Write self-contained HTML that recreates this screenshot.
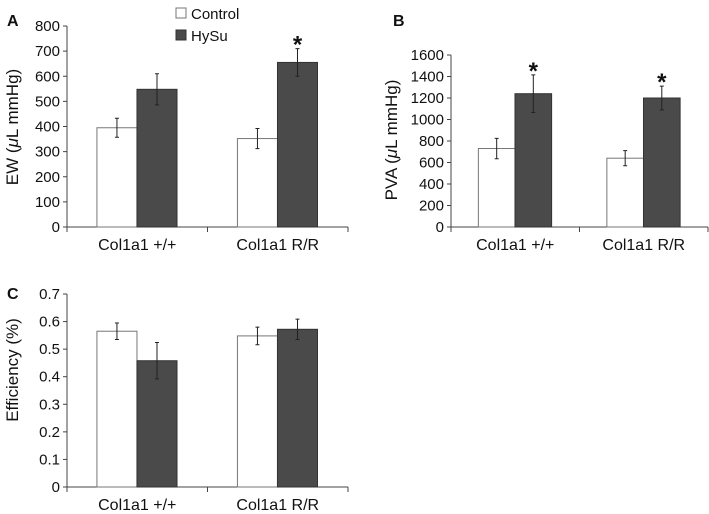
<!DOCTYPE html>
<html><head><meta charset="utf-8"><style>
body{margin:0;background:#fff;}
svg{display:block;font-family:"Liberation Sans",Arial,sans-serif;}
</style></head><body>
<svg id="chart" width="709" height="514" viewBox="0 0 709 514"></svg>
<script>
const categories=["Col1a1 +/+","Col1a1 R/R"];
const seriesNames=["Control","HySu"];
const ewControl=[395,352], ewControlErr=[38,40], ewHysu=[548,655], ewHysuErr=[62,55];
const ewTicks=[0,100,200,300,400,500,600,700,800];
const pvaControl=[730,640], pvaControlErr=[95,70], pvaHysu=[1240,1200], pvaHysuErr=[175,110];
const pvaTicks=[0,200,400,600,800,1000,1200,1400,1600];
const effControl=[0.565,0.548], effControlErr=[0.03,0.032], effHysu=[0.458,0.572], effHysuErr=[0.066,0.037];
const effTicks=["0","0.1","0.2","0.3","0.4","0.5","0.6","0.7"];
const ewStars=[false,true], pvaStars=[true,true], effStars=[false,false];

const svg=document.getElementById('chart');
const NS="http://www.w3.org/2000/svg";
function mk(tag,attrs,parent){const e=document.createElementNS(NS,tag);for(const k in attrs)e.setAttribute(k,attrs[k]);(parent||svg).appendChild(e);return e;}

function panel(o){
  const g=mk('g',{});
  
  
  const max=parseFloat(o.ticks[o.ticks.length-1]);
  const y=v=>o.y0-(v/max)*(o.y0-o.yTop);
  const catW=(o.x1-o.x0)/categories.length;
  const ax=mk('line',{x1:o.x0,y1:o.yTop,x2:o.x0,y2:o.y0,stroke:'#444','stroke-width':1},g);
  
  
  const bx=mk('line',{x1:o.x0,y1:o.y0,x2:o.x1,y2:o.y0,stroke:'#444','stroke-width':1},g);
  
  
  o.ticks.forEach(t=>{
    const v=parseFloat(t),yy=y(v);
    mk('line',{x1:o.x0-4,y1:yy,x2:o.x0,y2:yy,stroke:'#444'},g);
    const tx=mk('text',{x:o.x0-7,y:yy+5,'text-anchor':'end','font-size':15,fill:'#111'},g);
    tx.textContent=t;
    
    
  });
  for(let i=0;i<=categories.length;i++){const xx=o.x0+i*catW;mk('line',{x1:xx,y1:o.y0,x2:xx,y2:o.y0+5,stroke:'#444'},g);}
  categories.forEach((c,i)=>{
    const t=mk('text',{x:o.x0+(i+0.5)*catW,y:o.y0+23,'text-anchor':'middle','font-size':16,fill:'#111'},g);
    t.textContent=c;
    
    
    const bw=catW*0.285, off=catW*0.213;
    [[o.c,o.ce,'#fff','#777'],[o.h,o.he,'#4a4a4a','#333']].forEach((s,j)=>{
      const v=s[0][i],e=s[1][i],bx0=o.x0+i*catW+off+j*bw;
      const r=mk('rect',{x:bx0,y:y(v),width:bw,height:o.y0-y(v),fill:s[2],stroke:s[3],'stroke-width':1},g);
      
      
      const cx=bx0+bw/2;
      const el=mk('path',{d:`M${cx},${y(v+e)}V${y(v-e)}M${cx-2},${y(v+e)}H${cx+2}M${cx-2},${y(v-e)}H${cx+2}`,stroke:'#222','stroke-width':1,fill:'none'},g);
      
      
      if(j===1&&o.stars[i]){
        const st=mk('text',{x:cx,y:y(v+e)+4,'text-anchor':'middle','font-size':24,'font-weight':'bold',fill:'#111'},g);
        st.textContent='*';
        
        
      }
    });
  });
  const tt=mk('text',{x:o.titleX,y:o.titleY,'text-anchor':'middle','font-size':17,fill:'#111',transform:`rotate(-90 ${o.titleX} ${o.titleY})`},g);
  tt.innerHTML=o.title;
  
  
  const pl=mk('text',{x:o.lx,y:o.ly,'font-size':16,'font-weight':'bold',fill:'#111'},g);
  pl.textContent=o.label;
  
  
}
panel({name:'panel-a-ew',x0:67,x1:348,y0:227,yTop:26,ticks:ewTicks.map(String),c:ewControl,ce:ewControlErr,h:ewHysu,he:ewHysuErr,stars:ewStars,title:'EW (<tspan font-style="italic">μ</tspan>L mmHg)',titleX:18,titleY:127,label:'A',lx:7,ly:26});
panel({name:'panel-b-pva',x0:451,x1:708,y0:227,yTop:55,ticks:pvaTicks.map(String),c:pvaControl,ce:pvaControlErr,h:pvaHysu,he:pvaHysuErr,stars:pvaStars,title:'PVA (<tspan font-style="italic">μ</tspan>L mmHg)',titleX:397,titleY:140,label:'B',lx:393,ly:26});
panel({name:'panel-c-efficiency',x0:67,x1:348,y0:487,yTop:294,ticks:effTicks,c:effControl,ce:effControlErr,h:effHysu,he:effHysuErr,stars:effStars,title:'Efficiency (%)',titleX:18,titleY:370,label:'C',lx:7,ly:299});
const lg=mk('g',{});


[['#fff','#777',8],['#4a4a4a','#333',30]].forEach((s,j)=>{
  const r=mk('rect',{x:176,y:s[2],width:10,height:10,fill:s[0],stroke:s[1]},lg);
  
  
  const t=mk('text',{x:191,y:s[2]+11,'font-size':15,fill:'#111'},lg);
  t.textContent=seriesNames[j];
  
  
});
</script>
</body></html>
